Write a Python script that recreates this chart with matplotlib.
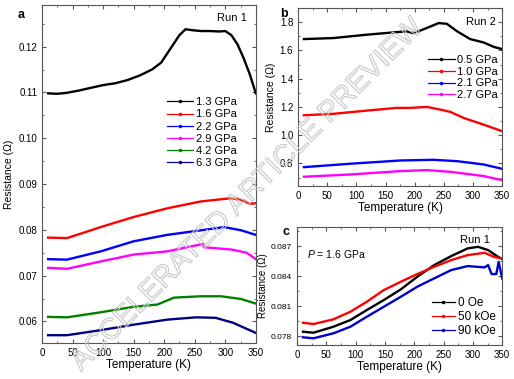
import matplotlib.pyplot as plt
import matplotlib.patheffects as pe
from matplotlib.ticker import AutoMinorLocator

plt.rcParams['font.family'] = ['Liberation Sans', 'DejaVu Sans']
plt.rcParams['mathtext.fontset'] = 'custom'
plt.rcParams['mathtext.it'] = 'Liberation Sans:italic'
plt.rcParams['mathtext.rm'] = 'Liberation Sans'

# panel a: Run 1, several pressures
ta_black = [10, 25, 40, 60, 80, 100, 120, 140, 160, 180, 195, 210, 225, 235, 245, 260, 275, 290, 300, 310, 320, 330, 340, 350]
ra_black = [0.1098, 0.1097, 0.1099, 0.1104, 0.1110, 0.1116, 0.1120, 0.1127, 0.1137, 0.1150, 0.1165, 0.1195, 0.1225,
            0.1238, 0.1236, 0.1234, 0.1234, 0.1233, 0.1234, 0.1225, 0.1205, 0.1175, 0.1140, 0.1098]
ta_red = [10, 41, 96, 150, 205, 260, 309, 331, 339, 350]
ra_red = [0.0783, 0.0782, 0.0806, 0.0828, 0.0847, 0.0862, 0.0869, 0.0864, 0.0857, 0.0858]
ta_blue = [10, 41, 96, 150, 205, 260, 298, 326, 350]
ra_blue = [0.0736, 0.0735, 0.0753, 0.0775, 0.0789, 0.0799, 0.0806, 0.0799, 0.0789]
ta_mag = [10, 41, 96, 150, 205, 237, 263, 265, 310, 335, 350]
ra_mag = [0.0717, 0.0715, 0.0731, 0.0746, 0.0753, 0.0762, 0.0769, 0.0762, 0.0757, 0.0750, 0.0736]
ta_green = [10, 41, 96, 150, 189, 216, 260, 293, 326, 350]
ra_green = [0.0610, 0.0609, 0.0620, 0.0632, 0.0637, 0.0652, 0.0655, 0.0655, 0.0649, 0.0639]
ta_navy = [10, 41, 96, 150, 205, 252, 284, 313, 350]
ra_navy = [0.0570, 0.0570, 0.0581, 0.0593, 0.0604, 0.0609, 0.0608, 0.0597, 0.0575]
labels_a = ['1.3 GPa', '1.6 GPa', '2.2 GPa', '2.9 GPa', '4.2 GPa', '6.3 GPa']
colors_a = ['black', '#ff0000', '#0000ff', '#ff00ff', '#008000', '#000080']

# panel b: Run 2
tb_black = [10, 60, 118, 169, 186, 198, 209, 227, 241, 255, 273, 295, 318, 336, 350]
rb_black = [1.680, 1.687, 1.711, 1.729, 1.734, 1.722, 1.739, 1.769, 1.793, 1.788, 1.734, 1.680, 1.656, 1.624, 1.609]
tb_red = [10, 60, 118, 169, 192, 221, 244, 261, 284, 318, 350]
rb_red = [1.141, 1.151, 1.174, 1.193, 1.193, 1.200, 1.181, 1.165, 1.122, 1.075, 1.028]
tb_blue = [10, 89, 175, 232, 273, 318, 350]
rb_blue = [0.774, 0.798, 0.821, 0.826, 0.816, 0.793, 0.762]
tb_mag = [10, 89, 175, 221, 261, 318, 350]
rb_mag = [0.706, 0.722, 0.746, 0.753, 0.741, 0.711, 0.682]
labels_b = ['0.5 GPa', '1.0 GPa', '2.1 GPa', '2.7 GPa']
colors_b = ['black', '#ff0000', '#0000ff', '#ff00ff']

# panel c: Run 1, 1.6 GPa, field dependence
tc_black = [10, 28, 62, 91, 119, 148, 177, 205, 234, 263, 291, 309, 326, 343, 350]
rc_black = [0.07843, 0.07833, 0.07893, 0.0796, 0.0806, 0.0816, 0.08267, 0.08393, 0.0851, 0.0860, 0.08677, 0.08693,
            0.0866, 0.08593, 0.0857]
tc_red = [10, 28, 62, 91, 119, 148, 177, 205, 234, 263, 291, 320, 337, 350]
rc_red = [0.07933, 0.0792, 0.07967, 0.08043, 0.08143, 0.0826, 0.08343, 0.0842, 0.08493, 0.0856, 0.0861, 0.08633,
          0.0859, 0.08577]
tc_blue = [10, 28, 62, 91, 119, 148, 177, 205, 234, 263, 291, 320, 326, 332, 340, 344, 350]
rc_blue = [0.07787, 0.07777, 0.07827, 0.07893, 0.07993, 0.08093, 0.08193, 0.08293, 0.08377, 0.0846, 0.085, 0.08487,
           0.0851, 0.0842, 0.0842, 0.08543, 0.08377]
labels_c = ['0 Oe', '50 kOe', '90 kOe']
colors_c = ['black', '#ff0000', '#0000cc']


def style(ax, fs):
    ax.tick_params(which='both', direction='in', top=True, right=True, labelsize=fs, color='#555555')
    ax.tick_params(which='major', length=3)
    ax.tick_params(which='minor', length=1.5)
    ax.xaxis.set_minor_locator(AutoMinorLocator(2))
    ax.yaxis.set_minor_locator(AutoMinorLocator(2))
    for s in ax.spines.values():
        s.set_color('#555555')
        s.set_linewidth(0.8)


def legend_markers(leg):
    for h in leg.get_lines():
        h.set_linewidth(0.9)
        h.set_marker('.')
        h.set_markersize(3)


fig = plt.figure(figsize=(5.14, 3.79), dpi=100)
ax_a = fig.add_axes([0.0817, 0.095, 0.416, 0.892])
ax_b = fig.add_axes([0.580, 0.509, 0.397, 0.470])
ax_c = fig.add_axes([0.578, 0.0897, 0.399, 0.311])

lw = 1.7
data_a = [(ta_black, ra_black), (ta_red, ra_red), (ta_blue, ra_blue), (ta_mag, ra_mag),
          (ta_green, ra_green), (ta_navy, ra_navy)]
for (t, r), lab, c in zip(data_a, labels_a, colors_a):
    ax_a.plot(t, r, color=c, lw=lw, label=lab)
ax_a.set_xlim(0, 350)
ax_a.set_ylim(0.0553, 0.1291)
ax_a.set_xticks([0, 50, 100, 150, 200, 250, 300, 350])
ax_a.set_yticks([0.06, 0.07, 0.08, 0.09, 0.10, 0.11, 0.12])
style(ax_a, 7)
ax_a.set_xlabel('Temperature (K)', fontsize=8.5, labelpad=1)
ax_a.set_ylabel('Resistance (Ω)', fontsize=7.5, labelpad=3)
ax_a.text(0.96, 0.975, 'Run 1', transform=ax_a.transAxes, ha='right', va='top', fontsize=8)
leg = ax_a.legend(loc='upper right', bbox_to_anchor=(0.93, 0.74), frameon=False, fontsize=8,
                  handlelength=2.4, labelspacing=0.2, handletextpad=0.2, borderaxespad=0)
legend_markers(leg)

data_b = [(tb_black, rb_black), (tb_red, rb_red), (tb_blue, rb_blue), (tb_mag, rb_mag)]
for (t, r), lab, c in zip(data_b, labels_b, colors_b):
    ax_b.plot(t, r, color=c, lw=lw, label=lab)
ax_b.set_xlim(0, 350)
ax_b.set_ylim(0.64, 1.90)
ax_b.set_xticks([0, 50, 100, 150, 200, 250, 300, 350])
ax_b.set_yticks([0.8, 1.0, 1.2, 1.4, 1.6, 1.8])
style(ax_b, 7)
ax_b.set_xlabel('Temperature (K)', fontsize=8.5, labelpad=1)
ax_b.set_ylabel('Resistance (Ω)', fontsize=7.5, labelpad=3)
ax_b.text(0.97, 0.95, 'Run 2', transform=ax_b.transAxes, ha='right', va='top', fontsize=8)
leg = ax_b.legend(loc='upper right', bbox_to_anchor=(1.0, 0.76), frameon=False, fontsize=8,
                  handlelength=2.4, labelspacing=0.15, handletextpad=0.2, borderaxespad=0)
legend_markers(leg)

data_c = [(tc_black, rc_black), (tc_red, rc_red), (tc_blue, rc_blue)]
for (t, r), lab, c in zip(data_c, labels_c, colors_c):
    ax_c.plot(t, r, color=c, lw=lw, label=lab)
ax_c.set_xlim(0, 350)
ax_c.set_ylim(0.0771, 0.0889)
ax_c.set_xticks([0, 50, 100, 150, 200, 250, 300, 350])
ax_c.set_yticks([0.078, 0.081, 0.084, 0.087])
style(ax_c, 6)
ax_c.tick_params(axis='x', labelsize=7)
ax_c.set_xlabel('Temperature (K)', fontsize=8.5, labelpad=1)
ax_c.set_ylabel('Resistance (Ω)', fontsize=7, labelpad=2)
ax_c.text(0.94, 0.93, 'Run 1', transform=ax_c.transAxes, ha='right', va='top', fontsize=8)
ax_c.text(0.05, 0.77, r'$P$ = 1.6 GPa', transform=ax_c.transAxes, ha='left', va='center', fontsize=7.5)
leg = ax_c.legend(loc='lower right', bbox_to_anchor=(0.99, 0.03), frameon=False, fontsize=8.5,
                  handlelength=2.0, labelspacing=0.15, handletextpad=0.2, borderaxespad=0)
legend_markers(leg)

fig.text(0.035, 0.975, 'a', fontsize=9, fontweight='bold', va='top')
fig.text(0.545, 0.98, 'b', fontsize=9, fontweight='bold', va='top')
fig.text(0.550, 0.405, 'c', fontsize=9, fontweight='bold', va='top')

# watermark
fig.text(0.48, 0.485, 'ACCELERATED ARTICLE PREVIEW', fontsize=21, rotation=45, ha='center', va='center',
         color=(1, 1, 1, 0), zorder=10,
         path_effects=[pe.withStroke(linewidth=0.8, foreground='#c8c8c8')])

fig.savefig('out.png', dpi=100)
